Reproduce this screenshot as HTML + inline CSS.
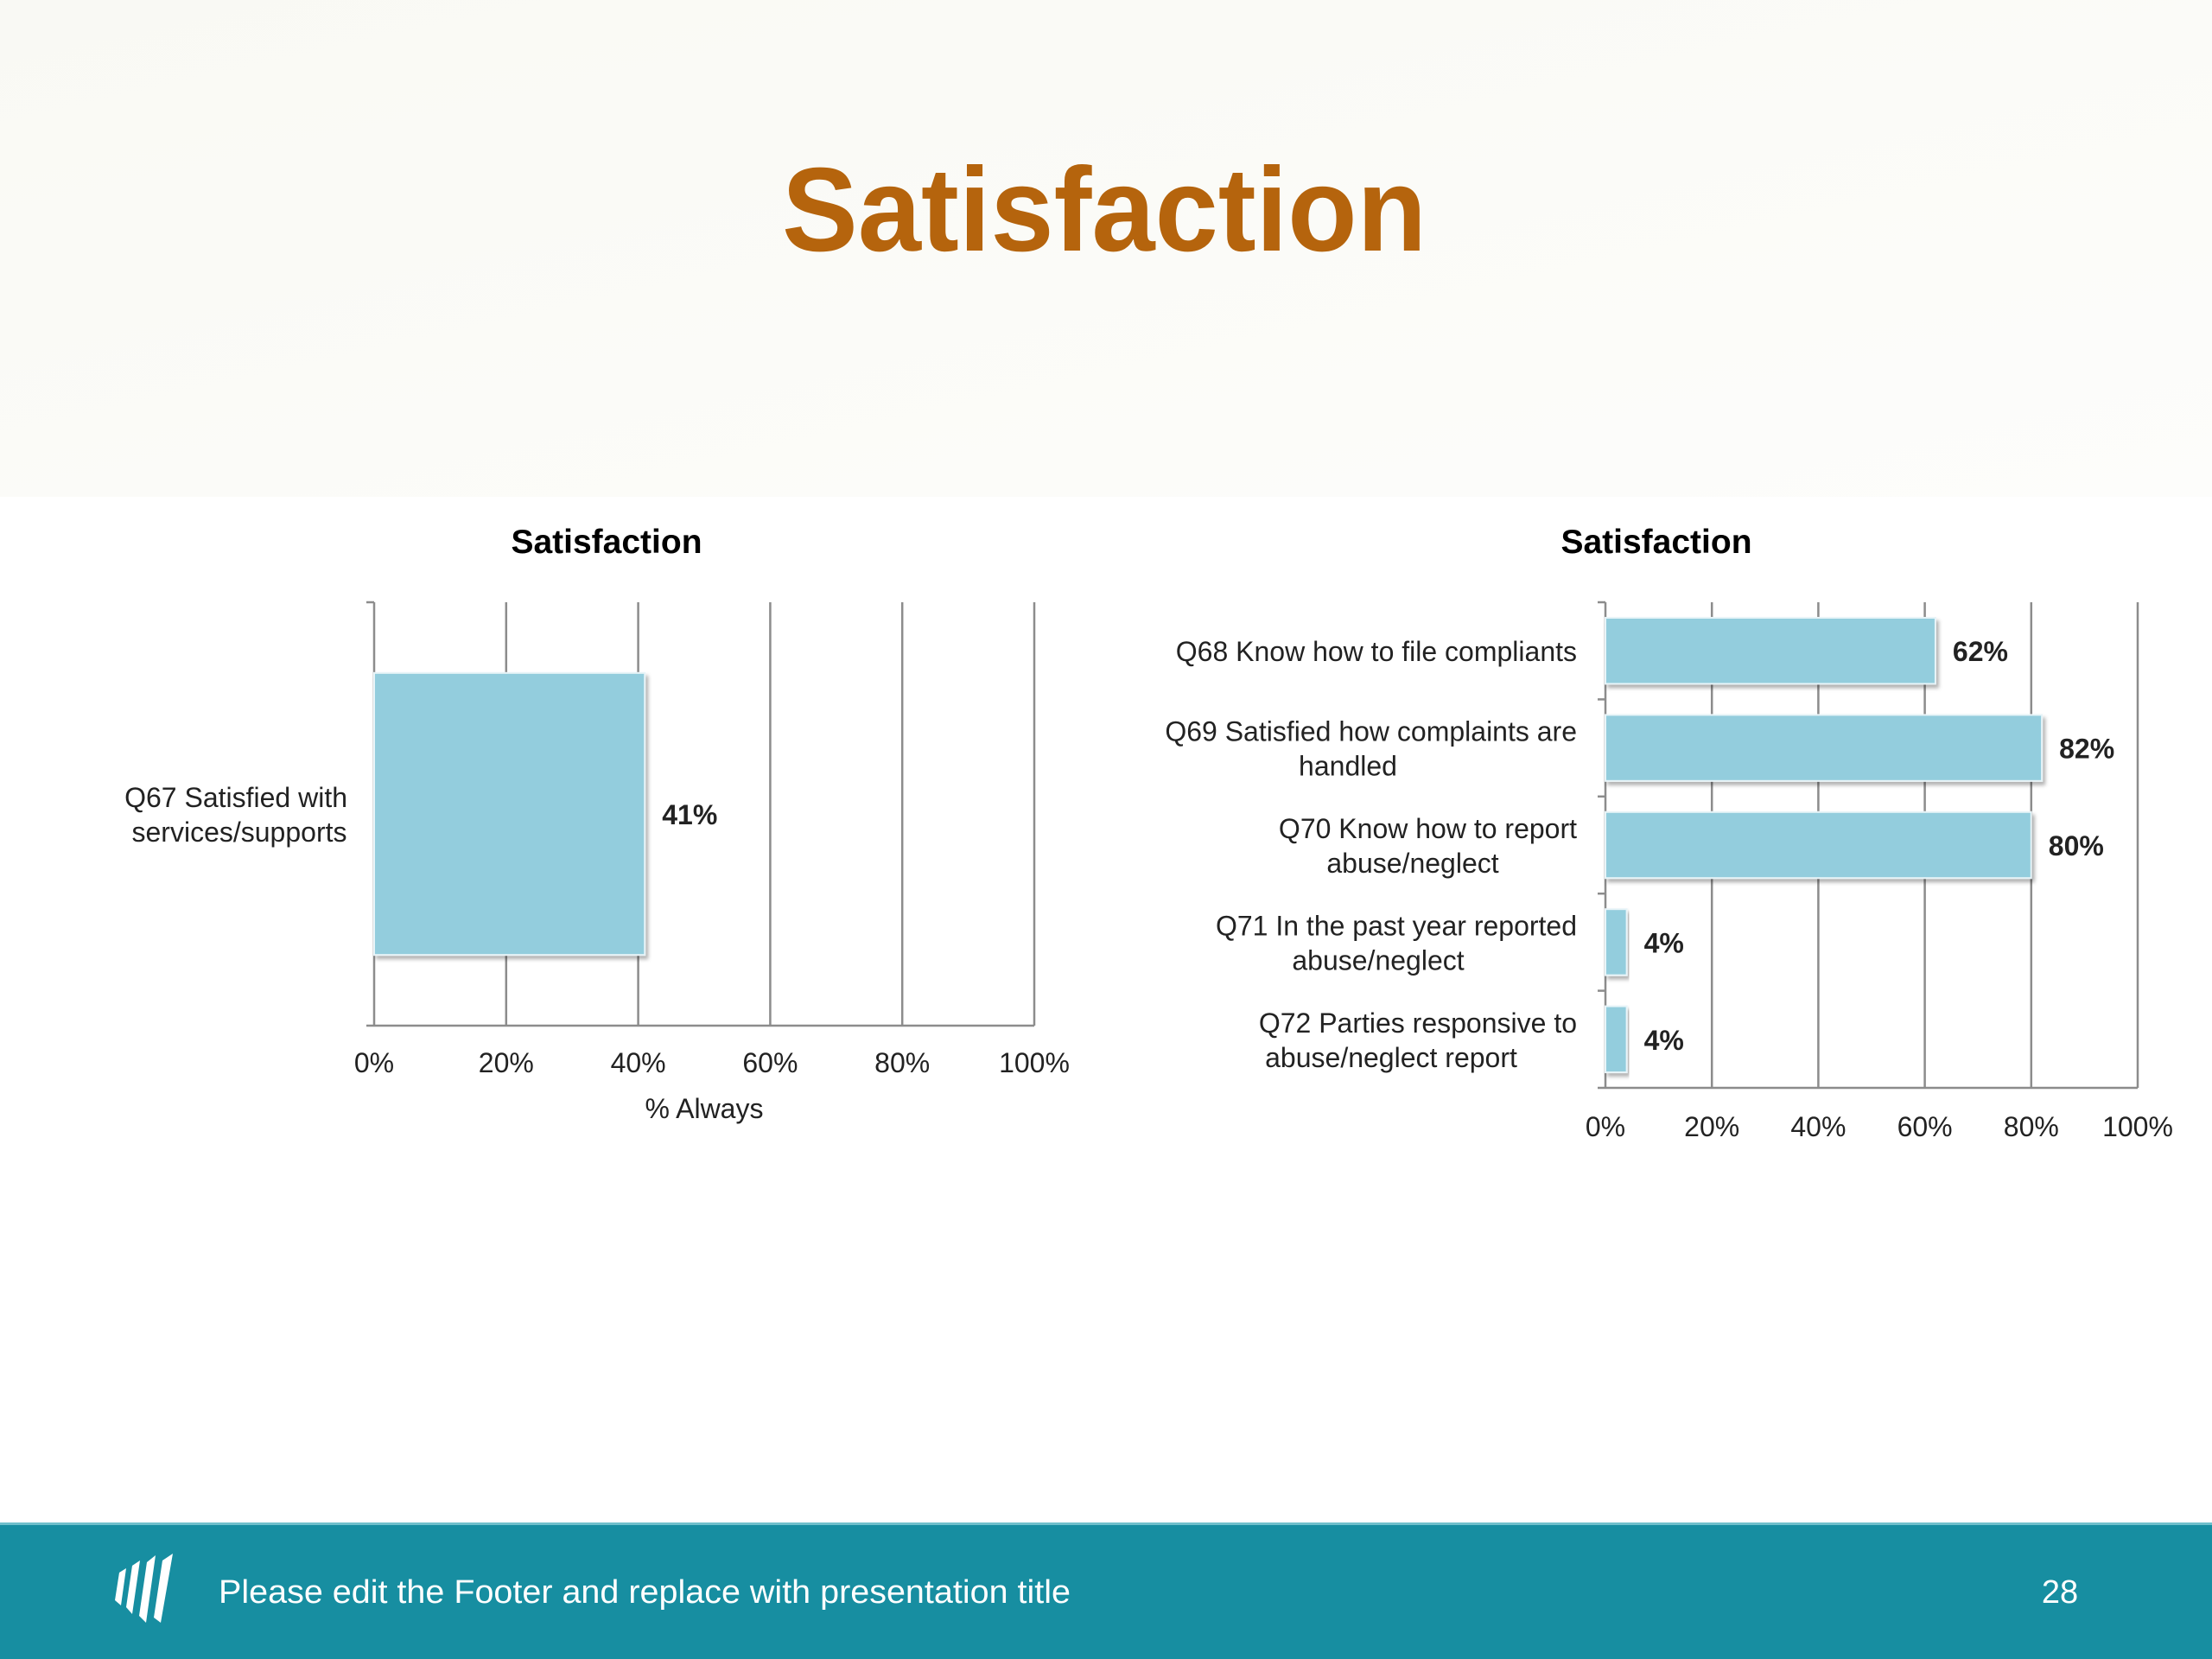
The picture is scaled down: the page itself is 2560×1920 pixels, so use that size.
<!DOCTYPE html>
<html><head><meta charset="utf-8"><style>
html,body{margin:0;padding:0;background:#fff}
svg{display:block}
text{font-family:"Liberation Sans",sans-serif}
</style></head><body>
<svg id="svg" width="2560" height="1920" viewBox="0 0 2560 1920" xmlns="http://www.w3.org/2000/svg">
<defs>
<linearGradient id="bg" x1="0" y1="0" x2="1" y2="1"><stop offset="0" stop-color="#f9f9f4"/><stop offset="1" stop-color="#fdfdfb"/></linearGradient>
<filter id="sh" x="-5%" y="-5%" width="115%" height="125%"><feDropShadow dx="3" dy="4" stdDeviation="2" flood-color="#000" flood-opacity="0.3"/></filter>
</defs>
<rect x="0" y="0" width="2560" height="1920" fill="#ffffff"/>
<rect x="0" y="0" width="2560" height="575" fill="url(#bg)"/>
<rect x="127" y="575" width="2433" height="780" fill="#ffffff"/>
<text x="1278" y="290" text-anchor="middle" font-size="138" font-weight="bold" fill="#b5640d" textLength="746" lengthAdjust="spacingAndGlyphs">Satisfaction</text>
<g id="left"></g>
<g id="right"></g>
<rect x="0" y="1762" width="2560" height="158" fill="#178ea1"/>
<rect x="0" y="1762" width="2560" height="3" fill="#6fc0cc"/>
<g fill="#ffffff">
<polygon points="138,1820 146,1815 140,1858 133,1852"/>
<polygon points="153,1812 162,1806 153,1868 146,1860"/>
<polygon points="170,1808 180,1800 169,1878 161,1870"/>
<polygon points="188,1806 200,1798 186,1878 178,1872"/>
</g>
<text x="253" y="1855" font-size="38" fill="#ffffff" textLength="986" lengthAdjust="spacingAndGlyphs">Please edit the Footer and replace with presentation title</text>
<text x="2384" y="1855" font-size="38" fill="#ffffff" text-anchor="middle">28</text>
</svg>
<script>
const leftCategories = [["Q67 Satisfied with","services/supports"]];
const leftValues = [41];
const rightCategories = [["Q68 Know how to file compliants"],["Q69 Satisfied how complaints are","handled"],["Q70 Know how to report","abuse/neglect"],["Q71 In the past year reported","abuse/neglect"],["Q72 Parties responsive to","abuse/neglect report"]];
const rightValues = [62, 82, 80, 4, 4];
const tickValues = [0, 20, 40, 60, 80, 100];
const tickLabels = ["0%","20%","40%","60%","80%","100%"];
const NS = "http://www.w3.org/2000/svg";
function mk(parent, tag, attrs, txt){
  const e = document.createElementNS(NS, tag);
  for (const k in attrs) e.setAttribute(k, attrs[k]);
  if (txt !== undefined) e.textContent = txt;
  parent.appendChild(e); return e;
}
function drawChart(g, cfg, cats, vals){
  const xs = v => cfg.x0 + (cfg.x1 - cfg.x0) * v / 100;
  const band = (cfg.y1 - cfg.y0) / cats.length;
  let t = mk(g, 'text', {x: cfg.titleX, y: 640, 'text-anchor':'middle', 'font-size': 39, 'font-weight':'bold', fill:'#000'}, 'Satisfaction');
  
  
  tickValues.forEach((v, i) => {
    if (v > 0) {
      const l = mk(g, 'line', {x1: xs(v), x2: xs(v), y1: cfg.y0, y2: cfg.y1, stroke:'#8c8c8c', 'stroke-width': 2.5});
      
      
    }
    const tl = mk(g, 'text', {x: xs(v), y: cfg.tickY, 'text-anchor':'middle', 'font-size': 32, fill:'#222'}, tickLabels[i]);
    
    
  });
  mk(g, 'line', {x1: cfg.x0, x2: cfg.x0, y1: cfg.y0, y2: cfg.y1, stroke:'#8c8c8c', 'stroke-width': 2.5});
  mk(g, 'line', {x1: cfg.x0, x2: cfg.x1, y1: cfg.y1, y2: cfg.y1, stroke:'#8c8c8c', 'stroke-width': 2.5});
  for (let i = 0; i <= cats.length; i++) {
    mk(g, 'line', {x1: cfg.x0 - 9, x2: cfg.x0, y1: cfg.y0 + band*i, y2: cfg.y0 + band*i, stroke:'#8c8c8c', 'stroke-width': 2.5});
  }
  cats.forEach((c, i) => {
    const by = cfg.y0 + band*i + band*cfg.gap;
    const bh = band*(1 - 2*cfg.gap);
    const r = mk(g, 'rect', {x: cfg.x0, y: by, width: xs(vals[i]) - cfg.x0, height: bh, fill:'#93cddd', stroke:'#e8f4f8', 'stroke-width': 2, filter:'url(#sh)'});
    
    
    const vl = mk(g, 'text', {x: xs(vals[i]) + 20, y: by + bh/2 + 12, 'font-size': 32, 'font-weight':'bold', fill:'#222'}, vals[i] + '%');
    
    
    const cy = cfg.y0 + band*(i + 0.5);
    const n = c.length;
    c.forEach((line, j) => {
      const ct = mk(g, 'text', {x: cfg.labelX, y: cy + (j - (n-1)/2)*40 + 12, 'text-anchor': n>1 && j>0 ? 'middle':'end', 'font-size': 32, fill:'#222'}, line);
      if (n > 1 && j > 0) ct.setAttribute('x', cfg.labelX - cfg.secondOffset[i]);
      
      
    });
  });
  if (cfg.axisTitle) {
    const at = mk(g, 'text', {x: (cfg.x0 + cfg.x1)/2, y: 1294, 'text-anchor':'middle', 'font-size': 32, fill:'#222'}, cfg.axisTitle);
    
    
  }
}
drawChart(document.getElementById('left'),
  {x0: 433, x1: 1197, y0: 697, y1: 1187, tickY: 1241, titleX: 702, labelX: 402, gap: 0.167, secondOffset:[125], axisTitle: '% Always'},
  leftCategories, leftValues);
drawChart(document.getElementById('right'),
  {x0: 1858, x1: 2474, y0: 697, y1: 1259, tickY: 1315, titleX: 1917, labelX: 1825, gap: 0.16, secondOffset:[0, 265, 190, 230, 215]},
  rightCategories, rightValues);
</script>
</body></html>
